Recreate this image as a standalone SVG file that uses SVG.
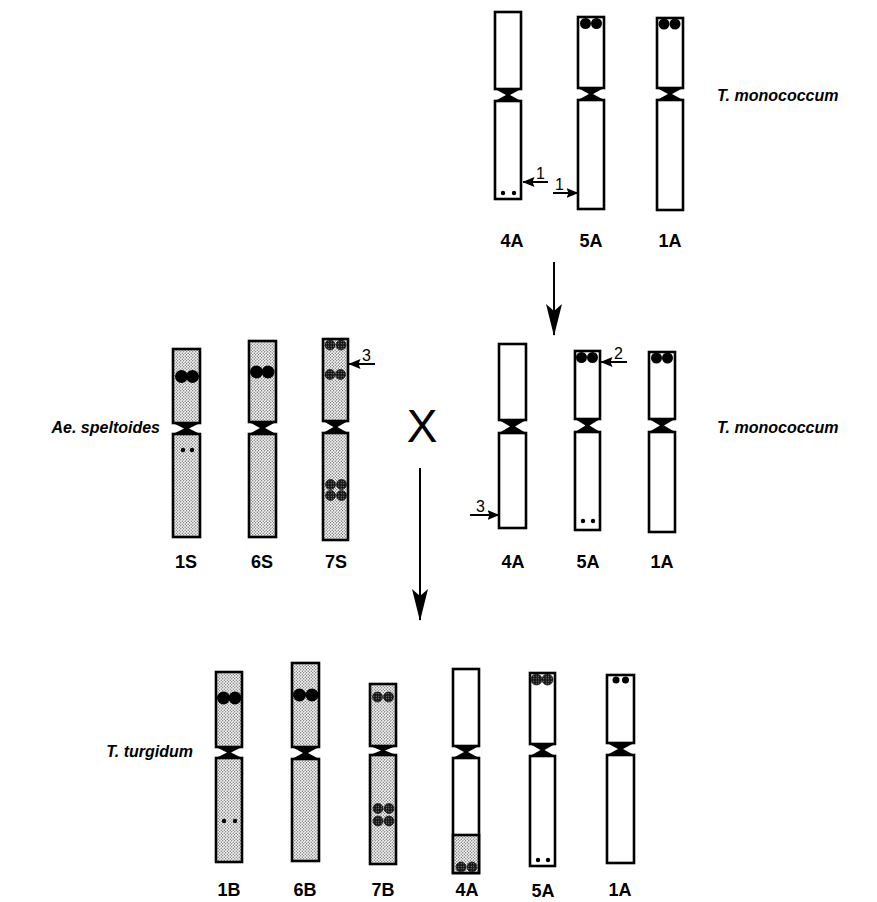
<svg xmlns="http://www.w3.org/2000/svg" width="877" height="902" viewBox="0 0 877 902">
  <defs>
    <!-- fine stipple for the grey chromosomes -->
    <pattern id="stipple" width="3" height="3" patternUnits="userSpaceOnUse">
      <rect width="3" height="3" fill="#f2f2f2"/>
      <circle cx="0.75" cy="0.75" r="0.65" fill="#6e6e6e"/>
      <circle cx="2.25" cy="2.25" r="0.65" fill="#6e6e6e"/>
    </pattern>
    <!-- dark shaded band marks -->
    <pattern id="hatch" width="2.5" height="2.5" patternUnits="userSpaceOnUse">
      <rect width="2.5" height="2.5" fill="#151515"/>
      <circle cx="1.25" cy="1.25" r="0.55" fill="#9a9a9a"/>
    </pattern>
    <marker id="bigHead" viewBox="0 0 32 16" refX="31" refY="8" markerWidth="32" markerHeight="16" markerUnits="userSpaceOnUse" orient="auto">
      <path d="M0,0 L32,8 L0,16 L7,8 Z" fill="#000"/>
    </marker>
    <marker id="smallHead" viewBox="0 0 12 10" refX="11.5" refY="5" markerWidth="12" markerHeight="10" markerUnits="userSpaceOnUse" orient="auto">
      <path d="M0,0 L12,5 L0,10 L2,5 Z" fill="#000"/>
    </marker>
  </defs>
  <style>
    .arm { stroke: #000; stroke-width: 2.6; }
    .plain { fill: #fff; }
    .grey { fill: url(#stipple); }
    .cen { fill: #000; }
    .big { fill: #000; }
    .band { fill: url(#hatch); stroke: #111; stroke-width: 0.7; }
    .sm { fill: #000; }
    .lbl { font-family: "Liberation Sans", Arial, sans-serif; font-weight: bold; font-size: 18px; text-anchor: middle; fill: #000; }
    .sp { font-family: "Liberation Sans", Arial, sans-serif; font-weight: bold; font-style: italic; font-size: 16px; fill: #000; }
    .num { font-family: "Liberation Sans", Arial, sans-serif; font-size: 16px; fill: #000; }
    .cross { font-family: "Liberation Sans", Arial, sans-serif; font-size: 46px; text-anchor: middle; fill: #000; }
    .line { stroke: #000; stroke-width: 2; fill: none; }
  </style>

  <rect width="877" height="902" fill="#fff"/>

  <!-- ===== diploid T. monococcum (top) ===== -->
  <g id="tm1-4A">
    <rect class="arm plain" x="495" y="12" width="26" height="77"/>
    <polygon class="cen" points="495,89 521,89 510,95 521,101 495,101 506,95"/>
    <rect class="arm plain" x="495" y="101" width="26" height="98"/>
    <circle class="sm" cx="503" cy="193" r="2.2"/>
    <circle class="sm" cx="514" cy="193" r="2.2"/>
    <text class="lbl" x="512" y="247">4A</text>
  </g>
  <g id="tm1-5A">
    <rect class="arm plain" x="578" y="17" width="26" height="71"/>
    <circle class="big" cx="585.5" cy="23.5" r="5.5"/>
    <circle class="big" cx="596.5" cy="23.5" r="5.5"/>
    <polygon class="cen" points="578,88 604,88 593,94 604,100 578,100 589,94"/>
    <rect class="arm plain" x="578" y="100" width="26" height="109"/>
    <text class="lbl" x="591" y="247">5A</text>
  </g>
  <g id="tm1-1A">
    <rect class="arm plain" x="657" y="18" width="26" height="70"/>
    <circle class="big" cx="664" cy="24" r="5.5"/>
    <circle class="big" cx="675" cy="24" r="5.5"/>
    <polygon class="cen" points="657,88 683,88 672,94 683,100 657,100 668,94"/>
    <rect class="arm plain" x="657" y="100" width="26" height="110"/>
    <text class="lbl" x="670" y="247">1A</text>
  </g>
  <text class="sp" x="717" y="101">T. monococcum</text>

  <!-- ===== Ae. speltoides (middle left) ===== -->
  <g id="as-1S">
    <rect class="arm grey" x="173" y="349" width="27" height="74"/>
    <circle class="big" cx="181.5" cy="376.5" r="6.5"/>
    <circle class="big" cx="192.5" cy="376.5" r="6.5"/>
    <polygon class="cen" points="173,423 200,423 189,428.5 200,434 173,434 184,428.5"/>
    <rect class="arm grey" x="173" y="434" width="27" height="103"/>
    <circle class="sm" cx="183" cy="450" r="2.2"/>
    <circle class="sm" cx="192" cy="450" r="2.2"/>
    <text class="lbl" x="186" y="568">1S</text>
  </g>
  <g id="as-6S">
    <rect class="arm grey" x="249" y="341" width="27" height="81"/>
    <circle class="big" cx="256.5" cy="372" r="6.5"/>
    <circle class="big" cx="268" cy="372" r="6.5"/>
    <polygon class="cen" points="249,422 276,422 265,428 276,434 249,434 260,428"/>
    <rect class="arm grey" x="249" y="434" width="27" height="103"/>
    <text class="lbl" x="262" y="568">6S</text>
  </g>
  <g id="as-7S">
    <rect class="arm grey" x="323" y="339" width="25" height="82"/>
    <circle class="band" cx="330" cy="345" r="5"/>
    <circle class="band" cx="341" cy="345" r="5"/>
    <circle class="band" cx="330" cy="374.5" r="5"/>
    <circle class="band" cx="340.5" cy="374.5" r="5"/>
    <polygon class="cen" points="323,421 348,421 337.5,427 348,433 323,433 333.5,427"/>
    <rect class="arm grey" x="323" y="433" width="25" height="107"/>
    <circle class="band" cx="330.5" cy="484.5" r="5"/>
    <circle class="band" cx="341.5" cy="484.5" r="5"/>
    <circle class="band" cx="330.5" cy="495.5" r="5"/>
    <circle class="band" cx="341.5" cy="495.5" r="5"/>
    <text class="lbl" x="336" y="568">7S</text>
  </g>
  <text class="sp" x="160" y="433" text-anchor="end">Ae. speltoides</text>

  <text class="cross" x="422" y="442">X</text>

  <!-- ===== T. monococcum after rearrangement (middle right) ===== -->
  <g id="tm2-4A">
    <rect class="arm plain" x="499" y="344" width="27" height="76"/>
    <polygon class="cen" points="499,420 526,420 515,426.5 526,433 499,433 510,426.5"/>
    <rect class="arm plain" x="499" y="433" width="27" height="95"/>
    <text class="lbl" x="513" y="568">4A</text>
  </g>
  <g id="tm2-5A">
    <rect class="arm plain" x="575" y="351" width="25" height="68"/>
    <circle class="big" cx="581.5" cy="357.5" r="5.5"/>
    <circle class="big" cx="592.5" cy="357.5" r="5.5"/>
    <polygon class="cen" points="575,419 600,419 589.5,425.5 600,432 575,432 585.5,425.5"/>
    <rect class="arm plain" x="575" y="432" width="25" height="98"/>
    <circle class="sm" cx="583" cy="521" r="2.2"/>
    <circle class="sm" cx="593" cy="521" r="2.2"/>
    <text class="lbl" x="588" y="568">5A</text>
  </g>
  <g id="tm2-1A">
    <rect class="arm plain" x="649" y="352" width="26" height="67"/>
    <circle class="big" cx="656.5" cy="358" r="5.5"/>
    <circle class="big" cx="667.5" cy="358" r="5.5"/>
    <polygon class="cen" points="649,419 675,419 664,425.5 675,432 649,432 660,425.5"/>
    <rect class="arm plain" x="649" y="432" width="26" height="100"/>
    <text class="lbl" x="662" y="568">1A</text>
  </g>
  <text class="sp" x="717" y="433">T. monococcum</text>

  <!-- ===== T. turgidum (bottom) ===== -->
  <g id="tt-1B">
    <rect class="arm grey" x="216" y="672" width="26" height="75"/>
    <circle class="big" cx="223.5" cy="698" r="6.5"/>
    <circle class="big" cx="235" cy="698" r="6.5"/>
    <polygon class="cen" points="216,747 242,747 231,752.5 242,758 216,758 227,752.5"/>
    <rect class="arm grey" x="216" y="758" width="26" height="104"/>
    <circle class="sm" cx="224" cy="821" r="2.2"/>
    <circle class="sm" cx="235" cy="821" r="2.2"/>
    <text class="lbl" x="229" y="896">1B</text>
  </g>
  <g id="tt-6B">
    <rect class="arm grey" x="292" y="663" width="27" height="84"/>
    <circle class="big" cx="299.5" cy="695" r="6.5"/>
    <circle class="big" cx="312" cy="695" r="6.5"/>
    <polygon class="cen" points="292,747 319,747 308,753 319,759 292,759 303,753"/>
    <rect class="arm grey" x="292" y="759" width="27" height="102"/>
    <text class="lbl" x="305" y="896">6B</text>
  </g>
  <g id="tt-7B">
    <rect class="arm grey" x="370" y="684" width="26" height="62"/>
    <circle class="band" cx="377.5" cy="697" r="5"/>
    <circle class="band" cx="388.5" cy="697" r="5"/>
    <polygon class="cen" points="370,746 396,746 385,750.5 396,755 370,755 381,750.5"/>
    <rect class="arm grey" x="370" y="755" width="26" height="109"/>
    <circle class="band" cx="378" cy="808.5" r="5"/>
    <circle class="band" cx="389" cy="808.5" r="5"/>
    <circle class="band" cx="378" cy="821" r="5"/>
    <circle class="band" cx="389" cy="821" r="5"/>
    <text class="lbl" x="383" y="896">7B</text>
  </g>
  <g id="tt-4A">
    <rect class="arm plain" x="453" y="669" width="26" height="77"/>
    <polygon class="cen" points="453,746 479,746 468,752 479,758 453,758 464,752"/>
    <rect class="arm plain" x="453" y="758" width="26" height="115"/>
    <rect class="arm grey" x="453" y="835" width="26" height="38"/>
    <circle class="band" cx="461" cy="867" r="5"/>
    <circle class="band" cx="472" cy="867" r="5"/>
    <text class="lbl" x="467" y="896">4A</text>
  </g>
  <g id="tt-5A">
    <rect class="arm plain" x="530" y="673" width="25" height="71"/>
    <circle class="band" cx="536.5" cy="679.5" r="5.5"/>
    <circle class="band" cx="547.5" cy="679.5" r="5.5"/>
    <polygon class="cen" points="530,744 555,744 544.5,750 555,756 530,756 540.5,750"/>
    <rect class="arm plain" x="530" y="756" width="25" height="110"/>
    <circle class="sm" cx="538" cy="860" r="2.2"/>
    <circle class="sm" cx="548" cy="860" r="2.2"/>
    <text class="lbl" x="543" y="897">5A</text>
  </g>
  <g id="tt-1A">
    <rect class="arm plain" x="607" y="675" width="27" height="68"/>
    <circle class="sm" cx="616" cy="680" r="3.5"/>
    <circle class="sm" cx="625.5" cy="680" r="3.5"/>
    <polygon class="cen" points="607,743 634,743 623,749 634,755 607,755 618,749"/>
    <rect class="arm plain" x="607" y="755" width="27" height="108"/>
    <text class="lbl" x="620" y="896">1A</text>
  </g>
  <text class="sp" x="193" y="757" text-anchor="end">T.  turgidum</text>

  <!-- ===== connectors: generation arrows and breakpoint pointers ===== -->
  <g id="connectors">
    <line class="line" x1="554" y1="262" x2="554" y2="335" marker-end="url(#bigHead)"/>
    <line class="line" x1="420" y1="468" x2="420" y2="620" marker-end="url(#bigHead)"/>

    <line class="line" x1="548" y1="182" x2="523" y2="182" marker-end="url(#smallHead)"/>
    <text class="num" x="536" y="179">1</text>
    <line class="line" x1="553" y1="193" x2="578" y2="193" marker-end="url(#smallHead)"/>
    <text class="num" x="555" y="190">1</text>

    <line class="line" x1="627" y1="362" x2="601" y2="362" marker-end="url(#smallHead)"/>
    <text class="num" x="614" y="359">2</text>

    <line class="line" x1="375" y1="364" x2="349" y2="364" marker-end="url(#smallHead)"/>
    <text class="num" x="362" y="361">3</text>
    <line class="line" x1="470" y1="515" x2="499" y2="515" marker-end="url(#smallHead)"/>
    <text class="num" x="476" y="512">3</text>
  </g>
</svg>
